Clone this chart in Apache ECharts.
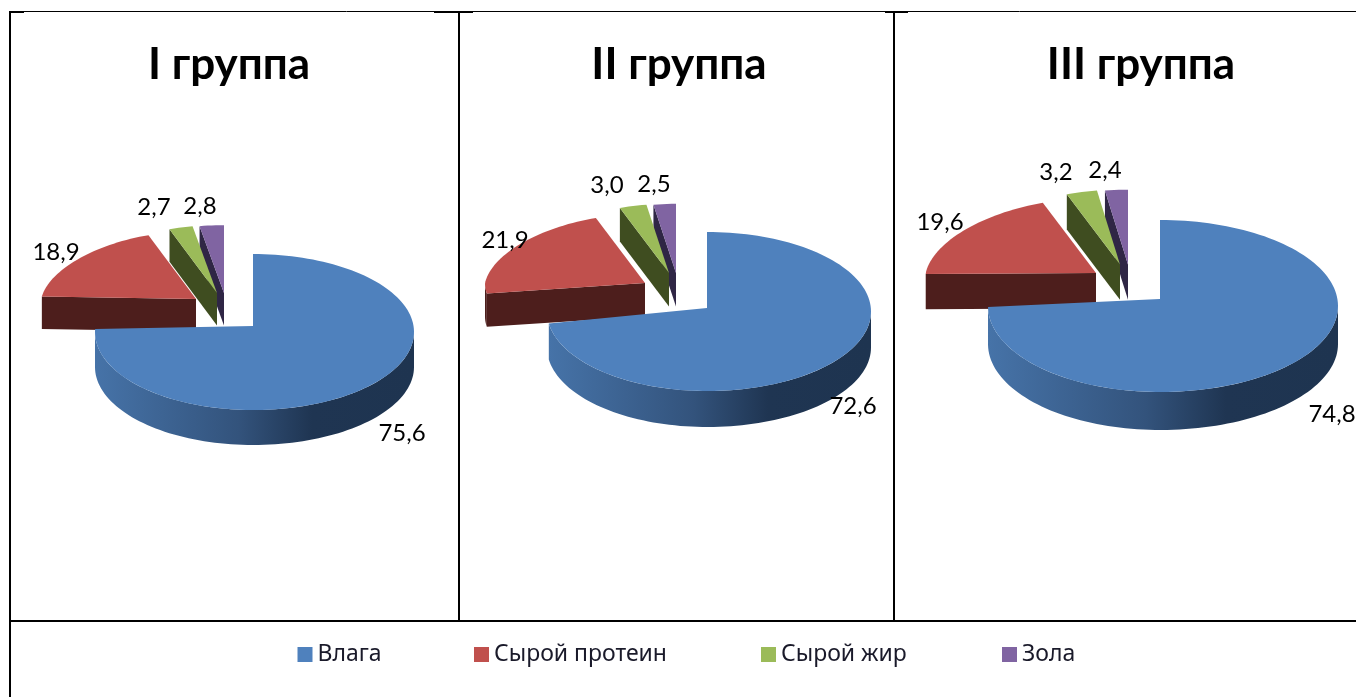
<!DOCTYPE html>
<html><head><meta charset="utf-8">
<style>html,body{margin:0;padding:0;background:#fff}#c{width:1356px;height:697px}</style>
<script src="https://cdn.jsdelivr.net/npm/echarts@6/dist/echarts.min.js"></script>
</head><body><div id="c"></div>
<script>
// ---- data ----
const categories = ['Влага', 'Сырой протеин', 'Сырой жир', 'Зола'];
const groups = ['I группа', 'II группа', 'III группа'];
const group1 = [75.6, 18.9, 2.7, 2.8];
const group2 = [72.6, 21.9, 3.0, 2.5];
const group3 = [74.8, 19.6, 3.2, 2.4];
const groupValues = [group1, group2, group3];

// ---- style / layout ----
const topColors = ['#4f81bd', '#c0504d', '#9bbb59', '#8064a2'];
const wallColors = ['#1f3552', '#4d1e1c', '#3f4d20', '#2f2645'];
const pies = [
  {ax:253, ay:326, cyOff:6, rxR:161, rxL:158, ry:78, depth:35, sx:0.98, off:[[0,0],[-57,-27],[-36,-33],[-29,-33]],
   lab:[[402,433],[56,252],[154,207],[200,206]], titleX:229},
  {ax:707, ay:308, cyOff:3.5, rxR:164, rxL:160, ry:79.5, depth:36, sx:1.0, off:[[0,0],[-62,-25],[-38,-35],[-31,-35]],
   lab:[[853,406],[505,240],[607,185],[654,184]], titleX:679},
  {ax:1160, ay:299, cyOff:7, rxR:178, rxL:172, ry:86, depth:38, sx:0.99, off:[[0,0],[-64,-26],[-40,-34.5],[-32,-34.5]],
   lab:[[1332,414],[940,222],[1056,172],[1105,170]], titleX:1141}
];
const legendLeft = [297.5, 474, 761, 1002];
const textFont = 'Lato, "Open Sans", sans-serif';

function point(p, k, deg) {
  const t = deg * Math.PI / 180, s = Math.sin(t), c = Math.cos(t);
  const o = p.off[k];
  const sx = k === 0 ? 1 : p.sx * (1 - 0.1 * Math.max(c, 0)), sy = k === 0 ? 1 : 0.87;
  return [p.ax + o[0] + (s >= 0 ? p.rxR : p.rxL) * s * sx,
          p.ay + o[1] + (k === 0 ? p.cyOff : 0) - p.ry * c * sy];
}
function arc(p, k, a0, a1) {
  const n = Math.max(2, Math.ceil(Math.abs(a1 - a0) / 2)), pts = [];
  for (let i = 0; i <= n; i++) pts.push(point(p, k, a0 + (a1 - a0) * i / n));
  return pts;
}
function makeRender(gi, k) {
  return function (params, api) {
    const p = pies[gi], vals = groupValues[gi];
    const total = vals.reduce((a, b) => a + b, 0);
    let start = 0;
    for (let i = 0; i < k; i++) start += vals[i];
    const a0 = start / total * 360, a1 = a0 + api.value(0) / total * 360;
    const depth = k === 0 ? p.depth : p.depth * 0.93;
    const apex = [p.ax + p.off[k][0], p.ay + p.off[k][1]];
    const ch = [];
    // radial wall at the start edge
    const tip = point(p, k, a0);
    ch.push({type:'polygon', shape:{points:[tip, apex, [apex[0], apex[1] + depth], [tip[0], tip[1] + depth]]},
             style:{fill:wallColors[k]}});
    // outer wall on the front half
    const w0 = Math.max(a0, 90), w1 = Math.min(a1, 270);
    if (w1 > w0) {
      const up = arc(p, k, w0, w1);
      const down = up.slice().reverse().map(q => [q[0], q[1] + depth]);
      const fill = k === 0 ? {type:'linear', x:1, y:0, x2:0, y2:0, colorStops:[
        {offset:0, color:'#1e3450'}, {offset:0.32, color:'#1f3552'}, {offset:0.55, color:'#33537c'}, {offset:1, color:'#4673a8'}]} : wallColors[k];
      ch.push({type:'polygon', shape:{points:up.concat(down)}, style:{fill}});
    }
    // top face
    ch.push({type:'polygon', shape:{points:[apex].concat(arc(p, k, a0, a1))},
             style:{fill:topColors[k]}});
    // value label
    ch.push({type:'text', style:{text:api.value(0).toFixed(1).replace('.', ','),
      x:p.lab[k][0], y:p.lab[k][1], align:'center', verticalAlign:'middle',
      font:'24px ' + textFont, fill:'#000'}, z2:100});
    return {type:'group', children:ch};
  };
}

const series = [];
groupValues.forEach((vals, gi) => {
  [3, 2, 1, 0].forEach(k => {
    series.push({type:'custom', name:categories[k], coordinateSystem:'none',
      itemStyle:{color:topColors[k]}, silent:true, animation:false, clip:false,
      data:[[vals[k]]], encode:{value:0}, renderItem:makeRender(gi, k)});
  });
});

const line = (x1, y1, x2, y2, w) => ({type:'line', silent:true, shape:{x1, y1, x2, y2}, style:{stroke:'#000', lineWidth:w}});

const chart = echarts.init(document.getElementById('c'), null, {renderer:'canvas'});
chart.setOption({
  animation:false, backgroundColor:'#fff',
  title: groups.map((g, i) => ({text:g, left:pies[i].titleX, top:65, padding:0, textAlign:'center', textVerticalAlign:'middle',
    textStyle:{fontFamily:textFont, fontWeight:'bold', fontSize:44, color:'#000'}})),
  legend: categories.map((c, i) => ({data:[c], left:legendLeft[i], top:643, itemWidth:15, itemHeight:15, itemGap:6, padding:0,
    icon:'rect', selectedMode:false,
    textStyle:{fontFamily:'"Noto Sans", sans-serif', fontSize:23, color:'#1a1a2a'}})),
  series,
  graphic:[
    line(10, 11.5, 1356, 11.5, 1),
    line(10, 12, 24, 12, 2), line(434, 12, 473, 12, 2), line(885, 12, 908, 12, 2),
    line(10, 11, 10, 697, 2), line(459, 11, 459, 621, 2), line(894, 11, 894, 621, 2),
    line(10, 621, 1356, 621, 2)
  ]
});
</script></body></html>
